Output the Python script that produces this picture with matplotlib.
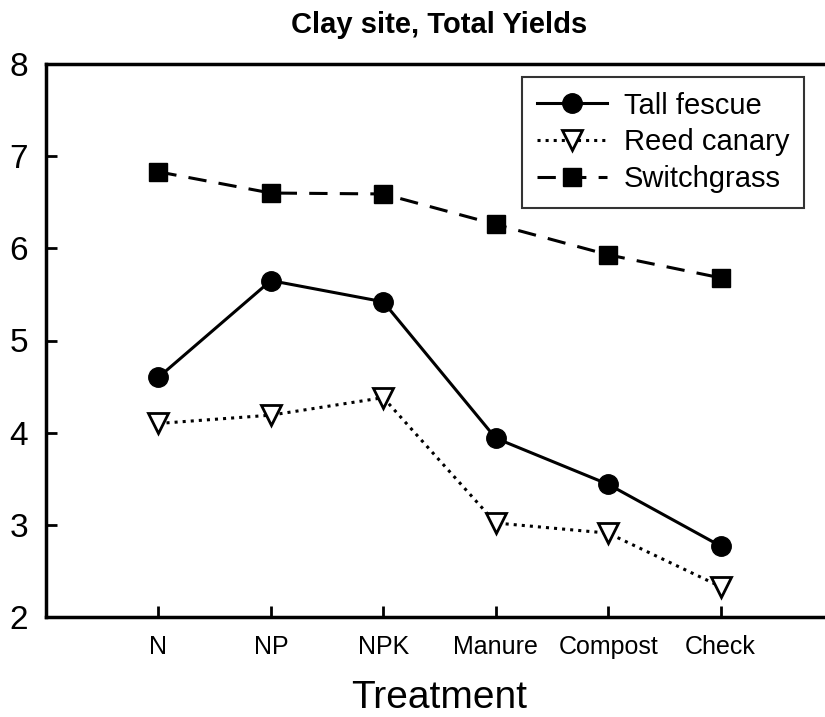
import matplotlib
matplotlib.use("Agg")
from matplotlib import pyplot as plt

treatments = ['N', 'NP', 'NPK', 'Manure', 'Compost', 'Check']
tall_fescue = [4.60, 5.65, 5.42, 3.94, 3.44, 2.77]
reed_canary = [4.10, 4.19, 4.38, 3.02, 2.91, 2.33]
switchgrass = [6.83, 6.60, 6.59, 6.26, 5.93, 5.68]

plt.rcParams['font.family'] = ['Liberation Sans', 'DejaVu Sans']

fig = plt.figure(figsize=(8.25, 7.17), dpi=100)
# axes runs off the right edge, as in the original
ax = fig.add_axes([46/825, 1 - 617/717, 787/825, (617-64)/717])

x = range(1, len(treatments) + 1)
ax.plot(x, tall_fescue, '-', color='black', lw=2.2, marker='o', ms=14,
        label='Tall fescue')
ax.plot(x, reed_canary, ':', color='black', lw=2.2, marker='v', ms=14,
        mfc='white', mec='black', mew=2, label='Reed canary')
ax.plot(x, switchgrass, '--', color='black', lw=2.2, dashes=(6, 4), marker='s',
        ms=13, label='Switchgrass')

ax.set_xlim(0, 7)
ax.set_ylim(2, 8)
ax.set_xticks(list(x))
ax.set_xticklabels(treatments, fontsize=18)
ax.set_yticks(range(2, 9))
ax.tick_params(axis='y', direction='in', length=8, width=2, labelsize=24, pad=13)
ax.tick_params(axis='x', direction='in', length=8, width=2, pad=13)
for s in ['left', 'bottom', 'top']:
    ax.spines[s].set_linewidth(2.5)
ax.spines['right'].set_visible(False)

ax.set_xlabel('Treatment', fontsize=28, labelpad=15)
ax.set_title('Clay site, Total Yields', fontsize=21, fontweight='bold', pad=22)

leg = ax.legend(loc='upper left', bbox_to_anchor=(522/825, 1 - 77/717),
                bbox_transform=fig.transFigure, borderaxespad=0,
                fontsize=21, frameon=True, fancybox=False, edgecolor='black',
                handlelength=2.4, handletextpad=0.6, borderpad=0.5,
                labelspacing=0.3)
leg.get_frame().set_linewidth(1.5)

fig.savefig('out.png', dpi=100)
